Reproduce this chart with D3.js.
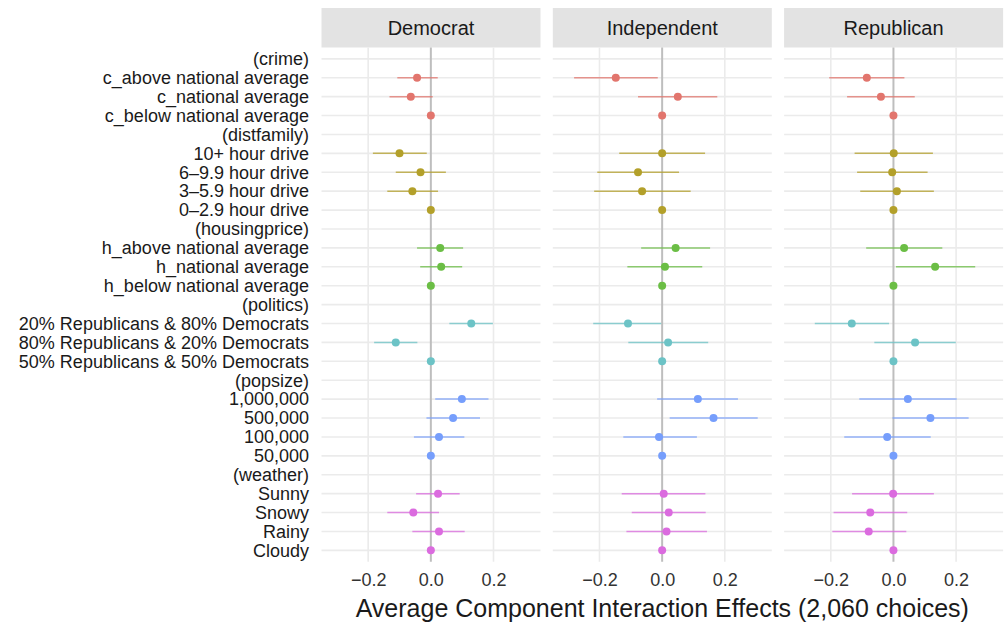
<!DOCTYPE html>
<html>
<head>
<meta charset="utf-8">
<script src="https://cdn.jsdelivr.net/npm/d3@7"></script>
<style>
  body { margin: 0; background: #fff; }
  text { font-family: "Liberation Sans", Arial, sans-serif; }
</style>
</head>
<body>
<div id="chart"></div>
<script>
// rows, top to bottom; header rows hold no estimate
var levels = ["(crime)", "c_above national average", "c_national average", "c_below national average",
  "(distfamily)", "10+ hour drive", "6\u20139.9 hour drive", "3\u20135.9 hour drive", "0\u20132.9 hour drive",
  "(housingprice)", "h_above national average", "h_national average", "h_below national average",
  "(politics)", "20% Republicans & 80% Democrats", "80% Republicans & 20% Democrats", "50% Republicans & 50% Democrats",
  "(popsize)", "1,000,000", "500,000", "100,000", "50,000",
  "(weather)", "Sunny", "Snowy", "Rainy", "Cloudy"]
var groups = ["crime", "crime", "crime", "crime", "distfamily", "distfamily", "distfamily", "distfamily", "distfamily",
  "housingprice", "housingprice", "housingprice", "housingprice", "politics", "politics", "politics", "politics",
  "popsize", "popsize", "popsize", "popsize", "popsize", "weather", "weather", "weather", "weather", "weather"]
var parties = ["Democrat", "Independent", "Republican"]
var xTicks = [-0.2, 0, 0.2]

var demEst = [null, -0.044, -0.064, 0, null, -0.100, -0.033, -0.059, 0, null, 0.030, 0.033, 0,
  null, 0.129, -0.112, 0, null, 0.099, 0.071, 0.026, 0, null, 0.023, -0.056, 0.026, 0]
var demLo = [null, -0.107, -0.132, null, null, -0.185, -0.112, -0.139, null, null, -0.044, -0.034, null,
  null, 0.059, -0.181, null, null, 0.014, -0.014, -0.054, null, null, -0.047, -0.139, -0.059, null]
var demHi = [null, 0.022, 0.006, null, null, -0.013, 0.048, 0.023, null, null, 0.103, 0.100, null,
  null, 0.198, -0.043, null, null, 0.184, 0.157, 0.107, null, null, 0.092, 0.026, 0.108, null]

var indEst = [null, -0.148, 0.050, 0, null, 0.000, -0.077, -0.064, 0, null, 0.043, 0.009, 0,
  null, -0.109, 0.019, 0, null, 0.114, 0.164, -0.010, 0, null, 0.005, 0.021, 0.014, 0]
var indLo = [null, -0.281, -0.077, null, null, -0.137, -0.207, -0.217, null, null, -0.067, -0.111, null,
  null, -0.220, -0.108, null, null, -0.016, 0.024, -0.124, null, null, -0.129, -0.097, -0.114, null]
var indHi = [null, -0.014, 0.176, null, null, 0.137, 0.054, 0.091, null, null, 0.153, 0.128, null,
  null, -0.003, 0.147, null, null, 0.242, 0.305, 0.111, null, null, 0.138, 0.139, 0.143, null]

var repEst = [null, -0.085, -0.040, 0, null, 0.001, -0.004, 0.011, 0, null, 0.034, 0.133, 0,
  null, -0.133, 0.069, 0, null, 0.046, 0.118, -0.020, 0, null, -0.001, -0.074, -0.079, 0]
var repLo = [null, -0.205, -0.148, null, null, -0.124, -0.116, -0.106, null, null, -0.087, 0.008, null,
  null, -0.251, -0.061, null, null, -0.109, -0.003, -0.157, null, null, -0.132, -0.191, -0.195, null]
var repHi = [null, 0.035, 0.068, null, null, 0.126, 0.109, 0.129, null, null, 0.156, 0.261, null,
  null, -0.014, 0.199, null, null, 0.202, 0.240, 0.119, null, null, 0.129, 0.044, 0.041, null]

var groupNames = ["crime", "distfamily", "housingprice", "politics", "popsize", "weather"]
var groupColors = ["#E2756D", "#B3A02A", "#6BBE45", "#6CC3C6", "#769EFC", "#DB6BDF"]

var est = [demEst, indEst, repEst]
var lo = [demLo, indLo, repLo]
var hi = [demHi, indHi, repHi]

var width = 1004
    height = 623
    panelLeft = 321.5
    panelW = 219
    panelStep = 231.3
    stripTop = 8
    panelTop = 47.5
    panelBottom = 561.7

var svg = d3.select("#chart").append("svg")
    .attr("width", width)
    .attr("height", height)

var color = d3.scaleOrdinal().domain(groupNames).range(groupColors)

// discrete y with ggplot-like 0.6 expansion
var y = d3.scalePoint()
    .domain(levels)
    .range([panelTop, panelBottom])
    .padding(0.6)

// y labels
svg.append("g")
  .selectAll("text")
  .data(levels)
  .enter()
  .append("text")
    .attr("x", 309)
    .attr("y", function(d) { return y(d) })
    .attr("dy", "0.35em")
    .attr("text-anchor", "end")
    .style("font-size", "18px")
    .style("fill", "#1a1a1a")
    .text(function(d) { return d })

parties.forEach(function(party, p) {
  var x0 = panelLeft + p * panelStep
  var x = d3.scaleLinear().domain([-0.349, 0.350]).range([x0, x0 + panelW])
  var g = svg.append("g")

  // strip
  g.append("rect")
    .attr("x", x0).attr("y", stripTop)
    .attr("width", panelW).attr("height", panelTop - stripTop)
    .attr("fill", "#E3E3E3")
  g.append("text")
    .attr("x", x0 + panelW / 2).attr("y", (stripTop + panelTop) / 2)
    .attr("dy", "0.35em")
    .attr("text-anchor", "middle")
    .style("font-size", "20px")
    .style("fill", "#1a1a1a")
    .text(party)

  // grid
  g.selectAll(".hgrid")
    .data(levels)
    .enter()
    .append("line")
      .attr("x1", x0).attr("x2", x0 + panelW)
      .attr("y1", function(d) { return y(d) })
      .attr("y2", function(d) { return y(d) })
      .attr("stroke", "#EBEBEB")
      .attr("stroke-width", 1.6)
  g.selectAll(".vgrid")
    .data(xTicks.filter(function(t) { return t !== 0 }))
    .enter()
    .append("line")
      .attr("x1", function(d) { return x(d) })
      .attr("x2", function(d) { return x(d) })
      .attr("y1", panelTop).attr("y2", panelBottom)
      .attr("stroke", "#EBEBEB")
      .attr("stroke-width", 1.6)
  g.append("line")
    .attr("x1", x(0)).attr("x2", x(0))
    .attr("y1", panelTop).attr("y2", panelBottom)
    .attr("stroke", "#BEBEBE")
    .attr("stroke-width", 2)

  // x axis
  var axis = g.append("g")
    .attr("transform", "translate(0," + (panelBottom + 2) + ")")
    .call(d3.axisBottom(x).tickValues(xTicks).tickSize(0).tickPadding(10)
      .tickFormat(function(d) { return d === 0 ? "0.0" : d3.format(".1f")(d).replace("-", "\u2212") }))
  axis.select(".domain").remove()
  axis.selectAll("text")
    .style("font-size", "18px")
    .style("fill", "#333")
    .style("font-family", "Liberation Sans, Arial, sans-serif")

  var rows = levels.map(function(l, i) {
    return { level: l, group: groups[i], est: est[p][i], lo: lo[p][i], hi: hi[p][i] }
  })

  // error bars
  g.selectAll(".ci")
    .data(rows.filter(function(d) { return d.lo !== null }))
    .enter()
    .append("line")
      .attr("x1", function(d) { return x(d.lo) })
      .attr("x2", function(d) { return x(d.hi) })
      .attr("y1", function(d) { return y(d.level) })
      .attr("y2", function(d) { return y(d.level) })
      .attr("stroke", function(d) { return color(d.group) })
      .attr("stroke-width", 1.5)
      .style("opacity", 0.75)

  // points
  g.selectAll(".pt")
    .data(rows.filter(function(d) { return d.est !== null }))
    .enter()
    .append("circle")
      .attr("cx", function(d) { return x(d.est) })
      .attr("cy", function(d) { return y(d.level) })
      .attr("r", 4)
      .attr("fill", function(d) { return color(d.group) })
})

svg.append("text")
  .attr("x", panelLeft + (2 * panelStep + panelW) / 2)
  .attr("y", 608)
  .attr("dy", "0.35em")
  .attr("text-anchor", "middle")
  .style("font-size", "25px")
  .style("fill", "#1a1a1a")
  .text("Average Component Interaction Effects (2,060 choices)")
</script>
</body>
</html>
